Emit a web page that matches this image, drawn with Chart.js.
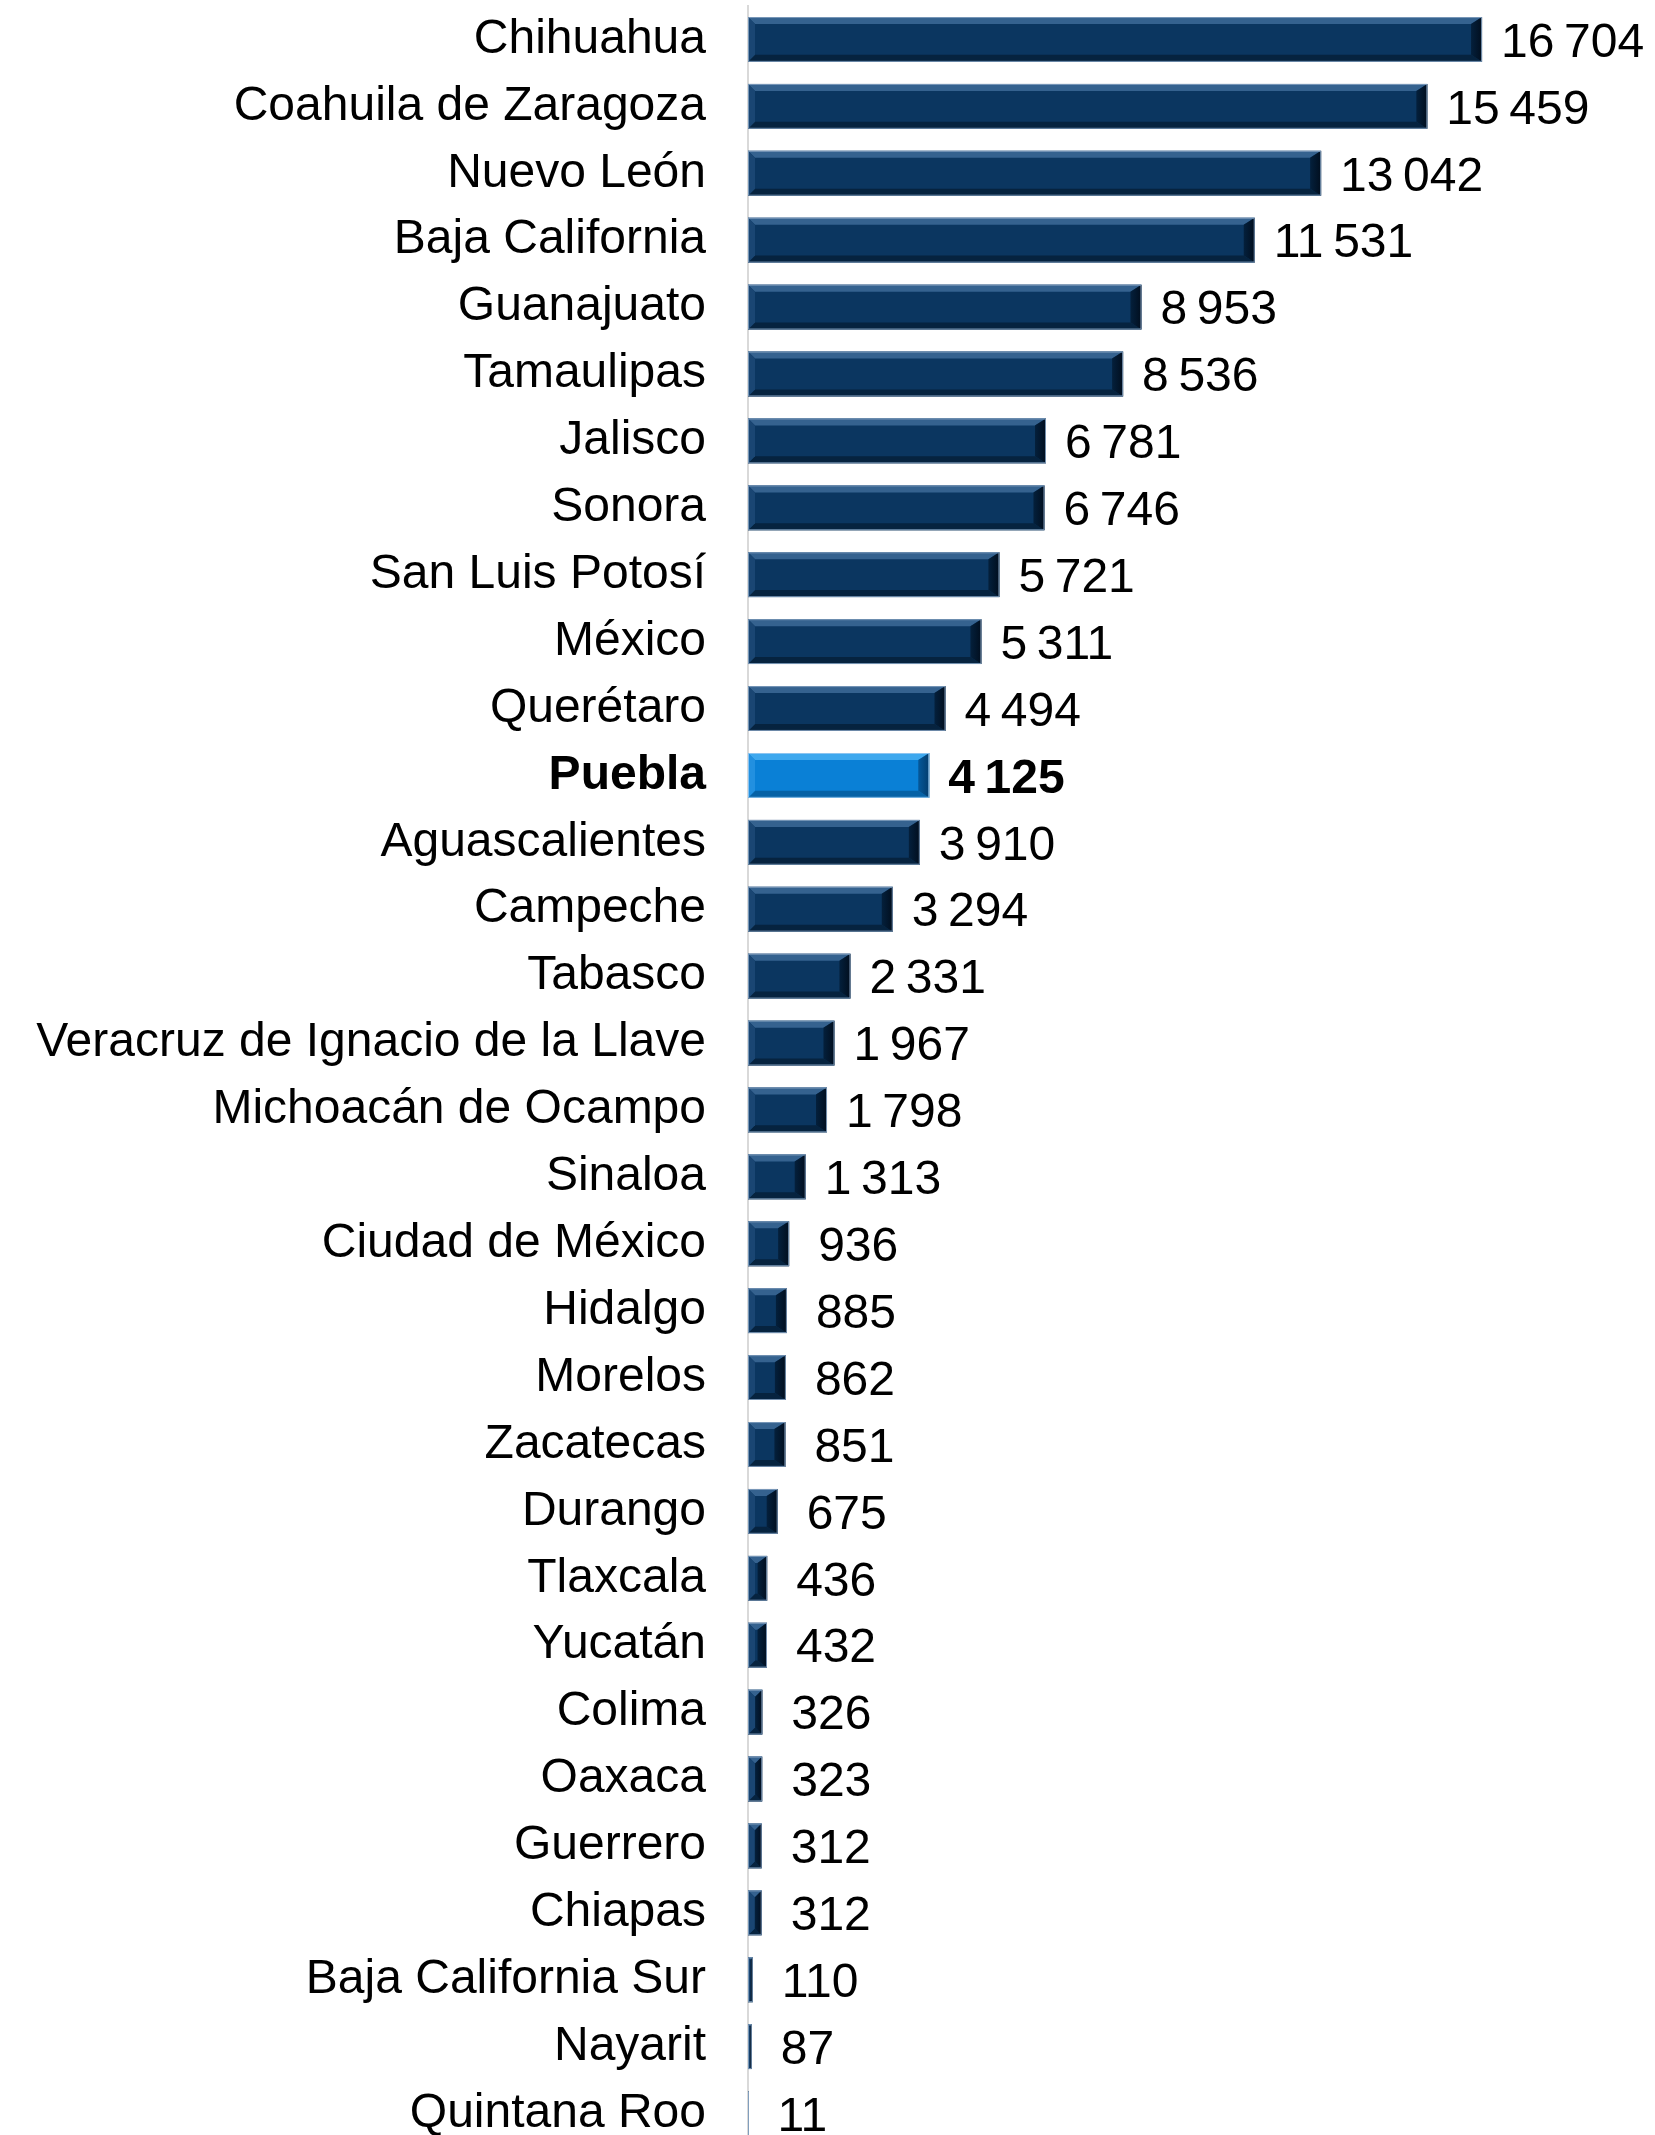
<!DOCTYPE html>
<html>
<head>
<meta charset="utf-8">
<script src="https://cdn.jsdelivr.net/npm/chart.js@4/dist/chart.umd.min.js"></script>
<style>
html,body{margin:0;padding:0;background:#fff;overflow:hidden;width:1655px;height:2135px;}
#wrap{width:1655px;height:2150px;}
</style>
</head>
<body>
<div id="wrap"><canvas id="c" width="1655" height="2150"></canvas></div>
<script>
const states = ["Chihuahua","Coahuila de Zaragoza","Nuevo León","Baja California","Guanajuato","Tamaulipas","Jalisco","Sonora","San Luis Potosí","México","Querétaro","Puebla","Aguascalientes","Campeche","Tabasco","Veracruz de Ignacio de la Llave","Michoacán de Ocampo","Sinaloa","Ciudad de México","Hidalgo","Morelos","Zacatecas","Durango","Tlaxcala","Yucatán","Colima","Oaxaca","Guerrero","Chiapas","Baja California Sur","Nayarit","Quintana Roo"];
const values = [16704,15459,13042,11531,8953,8536,6781,6746,5721,5311,4494,4125,3910,3294,2331,1967,1798,1313,936,885,862,851,675,436,432,326,323,312,312,110,87,11];
const highlight = "Puebla";

const FONT = "'Liberation Sans', Arial, sans-serif";
const navy = {base:"#0b3660", top:"#35628f", left:"#1a4673", bottom:"#06233f", right:"#04203c", rightEdge:"#010e1e", edge:"rgba(130,158,190,0.9)"};
const blue = {base:"#0a80d6", top:"#3ea8ee", left:"#2290e0", bottom:"#0662a6", right:"#05589a", rightEdge:"#033d6e", edge:"rgba(150,200,240,0.9)"};

function fmt(v){ return String(v).replace(/\B(?=(\d{3})+(?!\d))/g, "\u2009"); }

const bevelPlugin = {
  id: "bevel",
  afterDatasetsDraw(chart){
    const ctx = chart.ctx;
    const meta = chart.getDatasetMeta(0);
    meta.data.forEach((bar, i) => {
      const p = bar.getProps(["x","y","base","height"], true);
      const l = Math.min(p.base, p.x), r = Math.max(p.base, p.x);
      const t = p.y - p.height/2, b = p.y + p.height/2;
      const w = r - l;
      const pal = states[i] === highlight ? blue : navy;
      ctx.save();
      ctx.fillStyle = pal.base;
      ctx.fillRect(l, t, w, b - t);
      const bv = Math.min(7, w/2);
      const bvr = Math.min(11, w/2);
      const poly = (pts, col) => {
        ctx.beginPath();
        ctx.moveTo(pts[0][0], pts[0][1]);
        for (let k=1;k<pts.length;k++) ctx.lineTo(pts[k][0], pts[k][1]);
        ctx.closePath();
        ctx.fillStyle = col; ctx.fill();
      };
      poly([[l,t],[r,t],[r-bvr,t+bv],[l+bv,t+bv]], pal.top);
      poly([[l,b],[r,b],[r-bvr,b-bv],[l+bv,b-bv]], pal.bottom);
      poly([[l,t],[l+bv,t+bv],[l+bv,b-bv],[l,b]], pal.left);
      const g = ctx.createLinearGradient(r-bvr, 0, r, 0);
      g.addColorStop(0, pal.right); g.addColorStop(1, pal.rightEdge);
      poly([[r,t],[r-bvr,t+bv],[r-bvr,b-bv],[r,b]], g);
      ctx.strokeStyle = pal.edge;
      ctx.lineWidth = 1;
      ctx.strokeRect(l+0.5, t+0.5, Math.max(w-1,0), b - t - 1);
      const txt = fmt(values[i]);
      const bold = states[i] === highlight;
      ctx.font = (bold ? "bold " : "") + "48px " + FONT;
      ctx.fillStyle = "#000";
      ctx.textAlign = "left";
      ctx.textBaseline = "middle";
      const gap = values[i] >= 1000 ? 19 : 29;
      ctx.fillText(txt, r + gap, p.y + 4);
      ctx.restore();
    });
  }
};

new Chart(document.getElementById("c"), {
  type: "bar",
  data: {
    labels: states,
    datasets: [{
      data: values,
      backgroundColor: "rgba(0,0,0,0)",
      borderWidth: 0,
      categoryPercentage: 1.0,
      barPercentage: 0.67
    }]
  },
  options: {
    indexAxis: "y",
    responsive: false,
    animation: false,
    events: [],
    layout: { padding: { top: 6, bottom: 3, left: 0, right: 116 } },
    plugins: { legend: { display: false }, tooltip: { enabled: false }, title: { display: false } },
    scales: {
      x: { display: false, min: 0, max: 18000 },
      y: {
        afterFit(scale){ scale.width = 748; scale.paddingTop = 0; scale.paddingBottom = 0; },
        grid: { display: false, drawTicks: false },
        border: { display: true, color: "#d9d9d9", width: 2 },
        ticks: {
          padding: 42,
          color: "#000",
          autoSkip: false,
          font: (c) => ({ family: FONT, size: 48, weight: (c.tick && c.tick.label === highlight) ? "bold" : "normal" })
        }
      }
    }
  },
  plugins: [bevelPlugin]
});
</script>
</body>
</html>
